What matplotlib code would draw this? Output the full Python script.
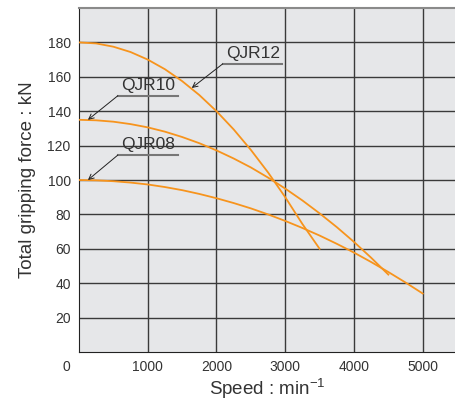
import matplotlib
matplotlib.use("Agg")
import matplotlib.pyplot as plt

plt.rcParams['font.family'] = ['Liberation Sans', 'DejaVu Sans']

# Speed (min-1) vs total gripping force (kN)
qjr12_speed = [0, 250, 500, 750, 1000, 1250, 1500, 1750, 2000, 2250, 2500,
               2750, 3000, 3250, 3500]
qjr12_force = [180, 179.4, 177.5, 174.4, 170, 164.4, 157.5, 149.4, 140,
               129.4, 117.5, 104.4, 90, 74.4, 60]

qjr10_speed = [0, 250, 500, 750, 1000, 1250, 1500, 1750, 2000, 2250, 2500,
               2750, 3000, 3250, 3500, 3750, 4000, 4250, 4500]
qjr10_force = [135, 134.7, 133.9, 132.5, 130.6, 128.1, 125, 121.4, 117.2,
               112.5, 107.3, 101.4, 95, 88.1, 80.6, 72.6, 64, 54.8, 45]

qjr08_speed = [0, 250, 500, 750, 1000, 1250, 1500, 1750, 2000, 2250, 2500,
               2750, 3000, 3250, 3500, 3750, 4000, 4250, 4500, 4750, 5000]
qjr08_force = [100, 99.8, 99.3, 98.5, 97.4, 95.9, 94.1, 91.9, 89.4, 86.6,
               83.5, 80, 76.2, 72.1, 67.7, 62.9, 57.8, 52.3, 46.5, 40.4, 34]

x_ticks = [1000, 2000, 3000, 4000, 5000]
y_ticks = [20, 40, 60, 80, 100, 120, 140, 160, 180]

# label name, underline left end, arrow tip, underline length
labels = [
    ("QJR12", (2090, 167.5), (1640, 153.5), 860),
    ("QJR10", (565, 149), (130, 135), 870),
    ("QJR08", (565, 114.5), (130, 100), 870),
]

orange = "#f7941d"
txt = "#333333"

fig = plt.figure(figsize=(4.56, 4.0), dpi=100)
ax = fig.add_axes([79 / 456, 48 / 400, 377 / 456, 344 / 400])
ax.set_facecolor("#e6e7e9")
ax.set_xlim(0, 5484)
ax.set_ylim(0, 200)

ax.set_xticks(x_ticks)
ax.set_yticks(y_ticks)
ax.grid(True, color="#3a3a3a", lw=1.0)
ax.set_axisbelow(True)
ax.tick_params(length=0, labelsize=10, labelcolor=txt, pad=6)

ax.spines["right"].set_visible(False)
ax.spines["top"].set_color("#8a8a8a")
ax.spines["top"].set_linewidth(1.5)
ax.spines["left"].set_color("#222222")
ax.spines["bottom"].set_color("#222222")

ax.plot(qjr12_speed, qjr12_force, color=orange, lw=1.3, zorder=3)
ax.plot(qjr10_speed, qjr10_force, color=orange, lw=1.3, zorder=3)
ax.plot(qjr08_speed, qjr08_force, color=orange, lw=1.3, zorder=3)

for name, (tx, ty), tip, ulen in labels:
    ax.text(tx + 50, ty + 1.5, name, fontsize=12.5, color=txt,
            ha="left", va="bottom", zorder=5)
    ax.plot([tx, tx + ulen], [ty, ty], color="#777777", lw=1.5, zorder=4)
    ax.annotate("", xy=tip, xytext=(tx, ty),
                arrowprops=dict(arrowstyle="->", color="#222222", lw=0.7,
                                shrinkA=0, shrinkB=0, mutation_scale=9),
                zorder=4)

ax.annotate("0", xy=(0, 0), xycoords="data", xytext=(-9.4, -6),
            textcoords="offset points", ha="center", va="top",
            fontsize=10, color=txt, annotation_clip=False)

ax.set_ylabel("Total gripping force : kN", fontsize=13.5, color=txt, labelpad=8)
ax.set_xlabel(r"Speed : min$^{\mathregular{-1}}$", fontsize=13.5, color=txt,
              labelpad=1)

fig.savefig("out.png", dpi=100)
